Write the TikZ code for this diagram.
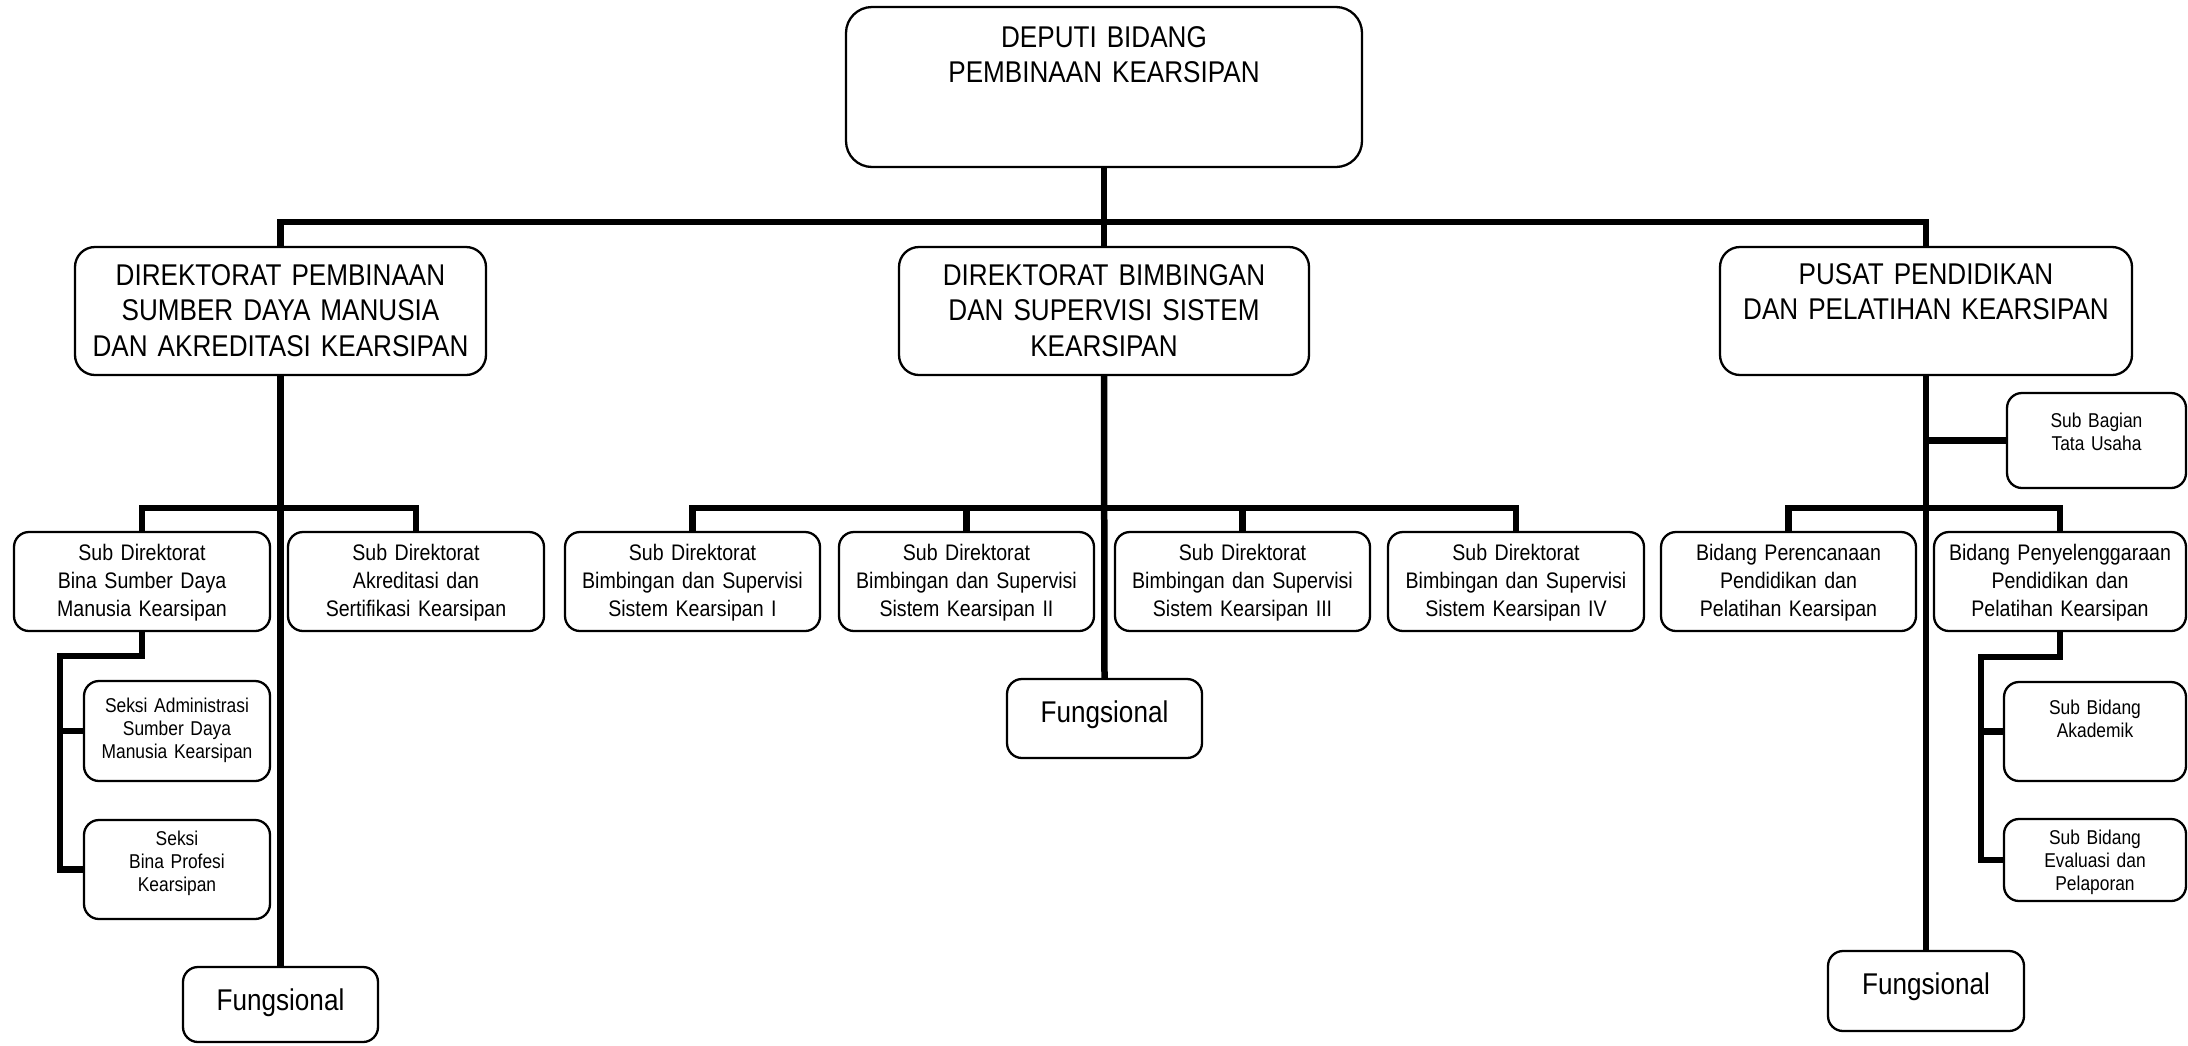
\documentclass[tikz,border=0pt]{standalone}
\usepackage{fontspec}
\setmainfont{Liberation Sans}[FakeStretch=0.87]

% #1 name, #2 x1, #3 y1, #4 x2, #5 y2, #6 box style, #7 text style,
% #8 distance from top edge to first baseline, #9 label
\newcommand\unitbox[9]{%
  \node[#6, anchor=north west,
        minimum width={(#4-#2)*1pt}, minimum height={(#5-#3)*1pt}] (#1) at (#2,#3) {};
  \node[#7, text width={(#4-#2)*1pt}, anchor=base] (#1-t)
        at ([yshift=-#8pt]#1.north) {#9};
}

\tikzset{
  unit/.style={draw, line width=2.3pt, inner sep=0pt, outer sep=0pt},
  bigunit/.style={unit, rounded corners=26pt},
  midunit/.style={unit, rounded corners=20pt},
  smallunit/.style={unit, rounded corners=15pt},
  lbl/.style={align=center, inner sep=0pt},
  lblbig/.style={lbl, font=\fontsize{30}{35.5}\selectfont},
  lblmid/.style={lbl, font=\fontsize{22.5}{28}\selectfont},
  lblsmall/.style={lbl, font=\fontsize{20}{23}\selectfont},
  conn/.style={line width=6.5pt},
}

\begin{document}
\begin{tikzpicture}[x=1pt, y=-1pt]
\fill[white] (0,0) rectangle (2188,1045);
\useasboundingbox (0,0) rectangle (2188,1045);

% top
\unitbox{deputi}{846}{7}{1362}{167}{bigunit}{lblbig}{40}{DEPUTI BIDANG\\PEMBINAAN KEARSIPAN}

% directorates
\unitbox{dirsdm}{75}{247}{486}{375}{midunit}{lblbig}{38}{DIREKTORAT PEMBINAAN\\SUMBER DAYA MANUSIA\\DAN AKREDITASI KEARSIPAN}
\unitbox{dirbim}{899}{247}{1309}{375}{midunit}{lblbig}{38}{DIREKTORAT BIMBINGAN\\DAN SUPERVISI SISTEM\\KEARSIPAN}
\unitbox{pusdiklat}{1720}{247}{2132}{375}{midunit}{lblbig}{37}{PUSAT PENDIDIKAN\\DAN PELATIHAN KEARSIPAN}

% left branch
\unitbox{binasdm}{14}{532}{270}{631}{smallunit}{lblmid}{28}{Sub Direktorat\\Bina Sumber Daya\\Manusia Kearsipan}
\unitbox{akred}{288}{532}{544}{631}{smallunit}{lblmid}{28}{Sub Direktorat\\Akreditasi dan\\Sertifikasi Kearsipan}
\unitbox{seksiAdm}{84}{681}{270}{781}{smallunit}{lblsmall}{31}{Seksi Administrasi\\Sumber Daya\\Manusia Kearsipan}
\unitbox{seksiBP}{84}{820}{270}{919}{smallunit}{lblsmall}{25}{Seksi\\Bina Profesi\\Kearsipan}
\unitbox{fungL}{183}{967}{378}{1042}{smallunit}{lblbig}{43}{Fungsional}

% middle branch
\unitbox{bss1}{565}{532}{820}{631}{smallunit}{lblmid}{28}{Sub Direktorat\\Bimbingan dan Supervisi\\Sistem Kearsipan I}
\unitbox{bss2}{839}{532}{1094}{631}{smallunit}{lblmid}{28}{Sub Direktorat\\Bimbingan dan Supervisi\\Sistem Kearsipan II}
\unitbox{bss3}{1115}{532}{1370}{631}{smallunit}{lblmid}{28}{Sub Direktorat\\Bimbingan dan Supervisi\\Sistem Kearsipan III}
\unitbox{bss4}{1388}{532}{1644}{631}{smallunit}{lblmid}{28}{Sub Direktorat\\Bimbingan dan Supervisi\\Sistem Kearsipan IV}
\unitbox{fungM}{1007}{679}{1202}{758}{smallunit}{lblbig}{43}{Fungsional}

% right branch
\unitbox{tatausaha}{2007}{393}{2186}{488}{smallunit}{lblsmall}{34}{Sub Bagian\\Tata Usaha}
\unitbox{bidper}{1661}{532}{1916}{631}{smallunit}{lblmid}{28}{Bidang Perencanaan\\Pendidikan dan\\Pelatihan Kearsipan}
\unitbox{bidpen}{1934}{532}{2186}{631}{smallunit}{lblmid}{28}{Bidang Penyelenggaraan\\Pendidikan dan\\Pelatihan Kearsipan}
\unitbox{subakad}{2004}{682}{2186}{781}{smallunit}{lblsmall}{32}{Sub Bidang\\Akademik}
\unitbox{subeval}{2004}{819}{2186}{901}{smallunit}{lblsmall}{25}{Sub Bidang\\Evaluasi dan\\Pelaporan}
\unitbox{fungR}{1828}{951}{2024}{1031}{smallunit}{lblbig}{43}{Fungsional}

% junction points
\coordinate (busTop) at (1104,222);
\coordinate (busL) at (280.5,508);
\coordinate (busM) at (1104,508);
\coordinate (busR) at (1926,508);
\coordinate (sL) at (60,656);
\coordinate (sR) at (1981,657);

% top level
\draw[conn] (deputi.south) -- (dirbim.north);
\draw[conn] (dirsdm.north) |- (busTop) -| (pusdiklat.north);

% left
\draw[conn] (dirsdm.south) -- (fungL.north);
\draw[conn] (binasdm.north) |- (busL) -| (akred.north);
\draw[conn] (binasdm.south) |- (sL) |- (seksiBP.west);
\draw[conn] (sL |- seksiAdm.west) -- (seksiAdm.west);

% middle
\draw[conn] (dirbim.south) -- (fungM.north);
\draw[conn] (bss1.north) |- (busM) -| (bss4.north);
\draw[conn] (bss2.north) -- (bss2.north |- busM);
\draw[conn] (bss3.north) -- (bss3.north |- busM);

% right
\draw[conn] (pusdiklat.south) -- (fungR.north);
\draw[conn] (tatausaha.west) -- (tatausaha.west -| pusdiklat.south);
\draw[conn] (bidper.north) |- (busR) -| (bidpen.north);
\draw[conn] (bidpen.south) |- (sR) |- (subeval.west);
\draw[conn] (sR |- subakad.west) -- (subakad.west);
\end{tikzpicture}
\end{document}
